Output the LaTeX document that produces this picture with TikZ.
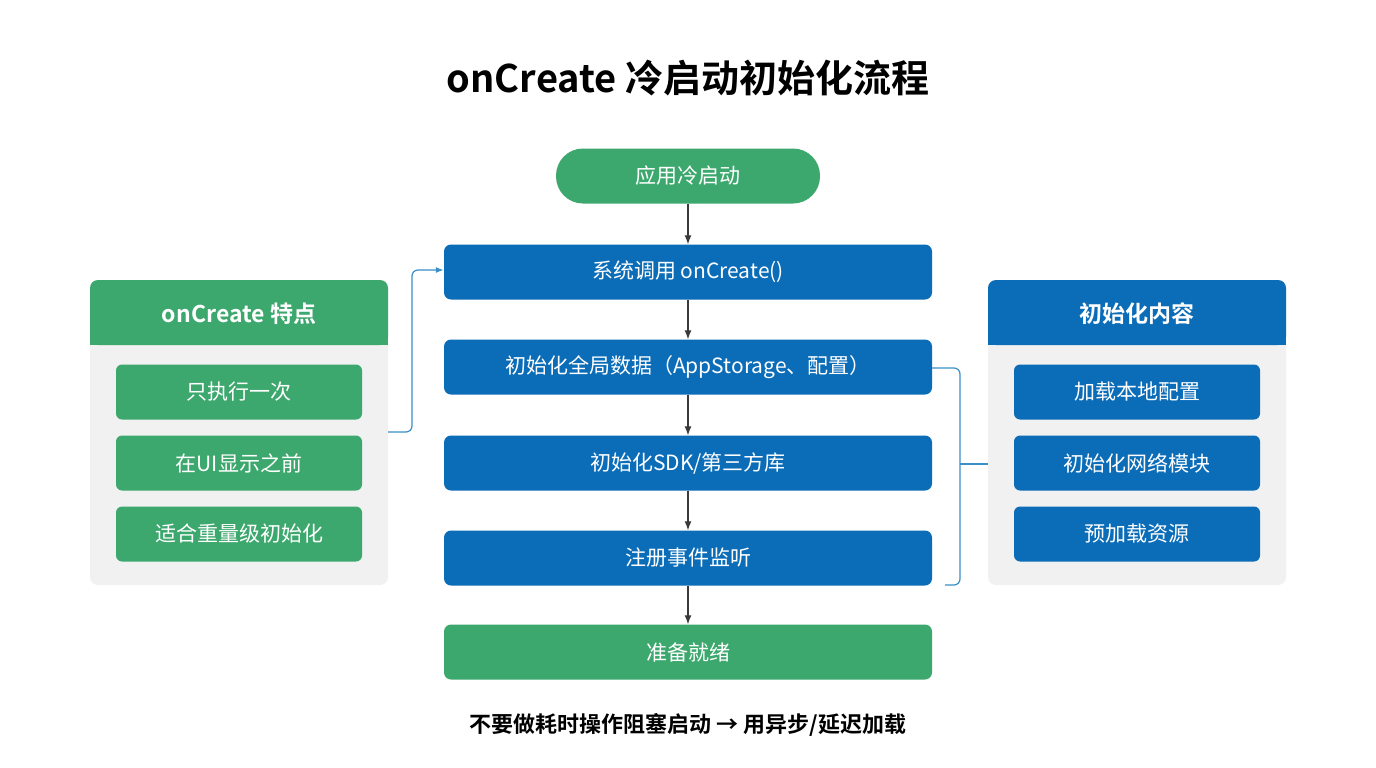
\documentclass[tikz,border=0pt]{standalone}
\usepackage{fontspec}
\setmainfont{Noto Sans CJK SC}
\newfontfamily\cjkb{Noto Sans CJK SC Bold}
\usetikzlibrary{arrows.meta}
\definecolor{gr}{HTML}{3DA86E}
\definecolor{bl}{HTML}{0B6CB8}
\definecolor{pn}{HTML}{F1F1F1}
\definecolor{ar}{HTML}{3A3A3A}
\definecolor{ln}{HTML}{3A8FC8}
\begin{document}
\begin{tikzpicture}[x=1pt,y=-1pt,
 box/.style={draw=none,rounded corners=7pt,minimum width=488pt,minimum height=55pt,text=white,font=\fontsize{21}{24}\selectfont,inner sep=0},
 item/.style={rounded corners=6pt,minimum width=246pt,minimum height=55pt,text=white,font=\fontsize{21}{24}\selectfont,inner sep=0},
 flow/.style={-{Latex[length=9pt,width=7pt]},ar,line width=1.2pt},
 side/.style={ln,line width=1.2pt,rounded corners=6pt}]
\useasboundingbox[fill=white] (0,0) rectangle (1376,768);
\node[font=\cjkb\fontsize{38}{44}\selectfont] (title) at (688,78) {onCreate 冷启动初始化流程};
\node[fill=gr,rounded corners=27pt,minimum width=264pt,minimum height=55pt,text=white,font=\fontsize{21}{24}\selectfont] (start) at (688,176) {应用冷启动};
\node[box,fill=bl] (sys) at (688,272) {系统调用 onCreate()};
\node[box,fill=bl] (glob) at (688,367) {初始化全局数据（AppStorage、配置）};
\node[box,fill=bl] (sdk) at (688,463) {初始化SDK/第三方库};
\node[box,fill=bl] (reg) at (688,558) {注册事件监听};
\node[box,fill=gr] (ready) at (688,652) {准备就绪};
\draw[flow] (start) -- (sys);
\draw[flow] (sys) -- (glob);
\draw[flow] (glob) -- (sdk);
\draw[flow] (sdk) -- (reg);
\draw[flow] (reg) -- (ready);
% left panel
\fill[pn,rounded corners=8pt] (90,280) rectangle (388,585);
\fill[gr,rounded corners=8pt] (90,280) rectangle (388,345);
\fill[gr] (90,320) rectangle (388,345);
\node[text=white,font=\cjkb\fontsize{23}{26}\selectfont] (lh) at (239,314) {onCreate 特点};
\node[item,fill=gr] (l1) at (239,392) {只执行一次};
\node[item,fill=gr] (l2) at (239,463) {在UI显示之前};
\node[item,fill=gr] (l3) at (239,534) {适合重量级初始化};
% right panel
\fill[pn,rounded corners=8pt] (988,280) rectangle (1286,585);
\fill[bl,rounded corners=8pt] (988,280) rectangle (1286,345);
\fill[bl] (988,320) rectangle (1286,345);
\node[text=white,font=\cjkb\fontsize{23}{26}\selectfont] (rh) at (1137,314) {初始化内容};
\node[item,fill=bl] (r1) at (1137,392) {加载本地配置};
\node[item,fill=bl] (r2) at (1137,463) {初始化网络模块};
\node[item,fill=bl] (r3) at (1137,534) {预加载资源};
% connectors
\coordinate (lp) at (388,432);
\draw[side,-{Latex[length=8pt,width=6pt]}] (lp) -- (412,432) -- (412,270) -- (sys.west |- 0,270);
\coordinate (rp) at (988,464);
\draw[side] (glob.east |- 0,368) -- (960,368) -- (960,585) -- (945,585);
\draw[side,rounded corners=0] (960,464) -- (rp);
\node[font=\cjkb\fontsize{22}{26}\selectfont] (note) at (688,725) {不要做耗时操作阻塞启动 → 用异步/延迟加载};
\end{tikzpicture}
\end{document}
